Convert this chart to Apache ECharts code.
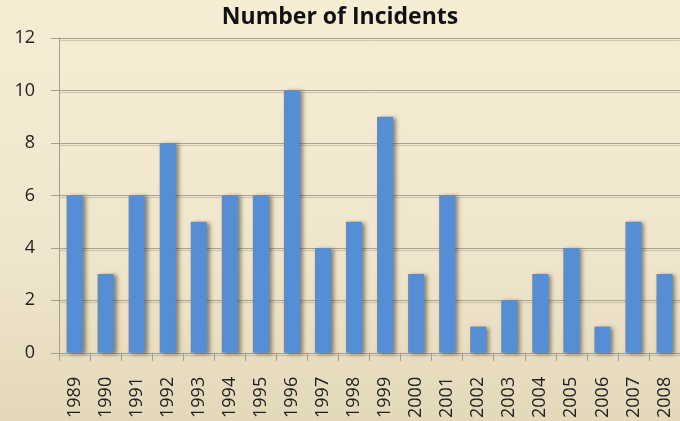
<!DOCTYPE html>
<html lang="en">
    <head>
        <meta charset="UTF-8">
        <title>Number of Incidents</title>
        <script src="https://cdn.jsdelivr.net/npm/echarts@6/dist/echarts.min.js"></script>
        <style>
            html, body {
                margin: 0;
                padding: 0;
            }
        </style>
    </head>
    <body>
        <!--chart container-->
        <div id="main" style="width: 680px;height: 421px;"></div>
    </body>
</html>
<script>
    // years on the x axis
    var years = ['1989', '1990', '1991', '1992', '1993', '1994', '1995', '1996', '1997', '1998',
        '1999', '2000', '2001', '2002', '2003', '2004', '2005', '2006', '2007', '2008'];
    // incidents per year
    var incidents = [6, 3, 6, 8, 5, 6, 6, 10, 4, 5, 9, 3, 6, 1, 2, 3, 4, 1, 5, 3];

    var myChart = echarts.init(document.getElementById('main'));

    var font = 'Open Sans';

    var option = {
        backgroundColor: {
            type: 'linear', x: 0, y: 0, x2: 0, y2: 1,
            colorStops: [
                {offset: 0, color: '#f7ecd4'},
                {offset: 0.6, color: '#f0e6cd'},
                {offset: 1, color: '#e4d8ba'}
            ]
        },
        title: {
            text: 'Number of Incidents',
            left: 'center',
            top: 1,
            textStyle: {
                fontFamily: font,
                fontWeight: 'bold',
                fontSize: 23,
                color: '#111'
            }
        },
        grid: {
            left: 59,
            top: 38,
            width: 624,
            height: 315
        },
        xAxis: {
            type: 'category',
            data: years,
            axisLine: {lineStyle: {color: '#a39e90', width: 1}},
            axisTick: {show: true, length: 8, lineStyle: {color: '#a39e90'}},
            axisLabel: {
                rotate: 90,
                margin: 24,
                interval: 0,
                fontFamily: font,
                fontSize: 18,
                color: '#222'
            }
        },
        yAxis: {
            type: 'value',
            min: 0,
            max: 12,
            interval: 2,
            axisLine: {show: true, lineStyle: {color: '#a39e90', width: 1}},
            axisTick: {show: true, length: 8, lineStyle: {color: '#a39e90'}},
            axisLabel: {
                margin: 24,
                fontFamily: font,
                fontSize: 18,
                color: '#222'
            },
            splitLine: {
                lineStyle: {
                    color: '#a9a393',
                    width: 1,
                    shadowColor: 'rgba(150, 140, 120, 0.45)',
                    shadowOffsetY: 2,
                    shadowBlur: 1
                }
            }
        },
        series: [
            {
                name: 'Incidents',
                type: 'bar',
                data: incidents,
                barWidth: 16,
                itemStyle: {
                    color: '#558ed5',
                    shadowColor: 'rgba(60, 50, 30, 0.55)',
                    shadowOffsetX: 3,
                    shadowOffsetY: 1,
                    shadowBlur: 4
                }
            }
        ]
    };

    myChart.setOption(option);
</script>
